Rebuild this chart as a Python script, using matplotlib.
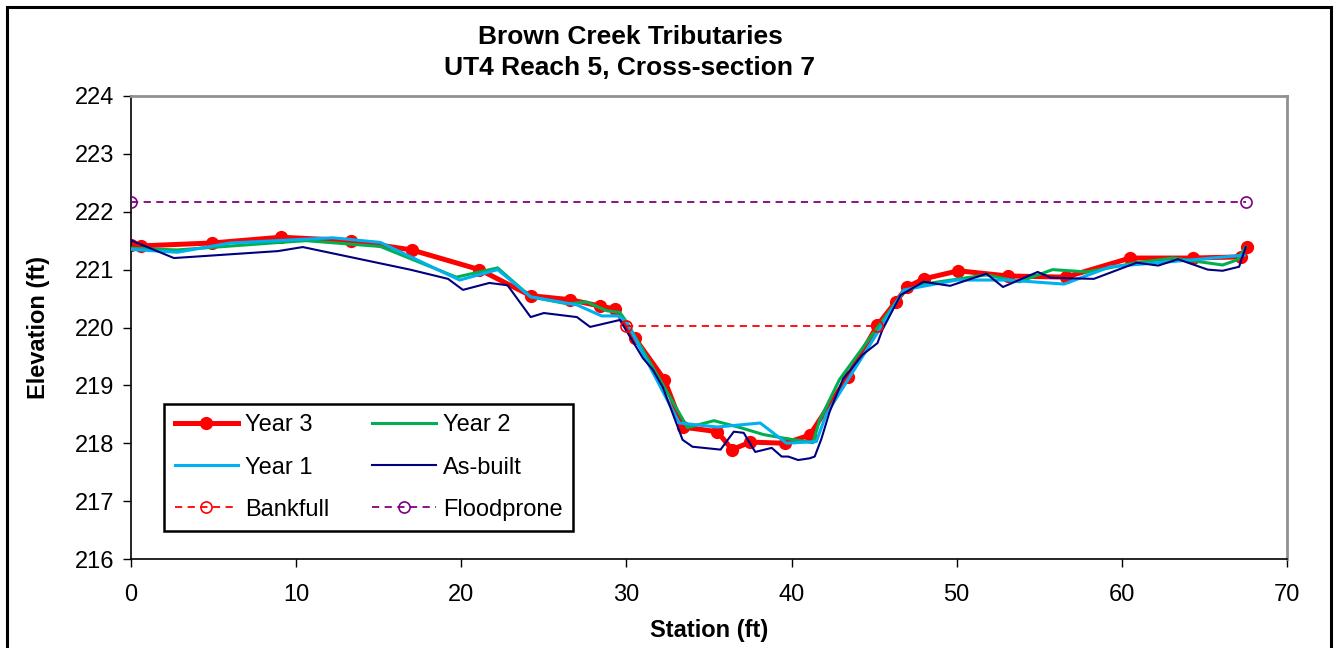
import matplotlib
matplotlib.use("Agg")
import matplotlib.pyplot as plt
from matplotlib.patches import Rectangle

plt.rcParams['font.family'] = ['Liberation Sans', 'DejaVu Sans']

# Year 3 survey
y3_sta = [0.0, 0.6, 4.9, 9.1, 13.3, 17.0, 21.1, 24.2, 26.6, 28.4, 29.3, 30.5, 32.3,
          33.4, 35.5, 36.4, 37.5, 39.6, 41.1, 43.4, 45.2, 46.3, 47.0, 48.0, 50.1,
          53.1, 56.6, 60.5, 64.3, 67.2, 67.6]
y3_elev = [221.43, 221.41, 221.46, 221.56, 221.5, 221.34, 221.0, 220.55, 220.48, 220.37,
           220.32, 219.82, 219.1, 218.28, 218.2, 217.89, 218.02, 218.0, 218.14, 219.15,
           220.04, 220.44, 220.7, 220.84, 220.98, 220.89, 220.87, 221.2, 221.2, 221.22,
           221.39]

# Year 2 survey
y2_sta = [0.0, 2.8, 9.0, 10.6, 15.1, 19.7, 22.2, 24.2, 26.4, 27.6, 28.8, 29.6, 30.0,
          33.2, 33.7, 35.3, 36.9, 38.3, 39.7, 41.3, 41.7, 42.9, 45.2, 46.8, 48.0,
          51.8, 53.8, 55.8, 57.9, 60.9, 63.1, 66.1, 67.0, 67.5]
y2_elev = [221.37, 221.34, 221.47, 221.5, 221.4, 220.87, 221.03, 220.53, 220.41, 220.44,
           220.29, 220.26, 220.1, 218.52, 218.27, 218.39, 218.27, 218.15, 218.08, 218.01,
           218.4, 219.1, 220.0, 220.62, 220.75, 220.91, 220.79, 221.0, 220.96, 221.12,
           221.2, 221.08, 221.17, 221.39]

# Year 1 survey
y1_sta = [0.0, 2.8, 6.0, 12.2, 15.1, 19.9, 22.2, 24.2, 27.0, 28.5, 29.5, 30.0, 33.2,
          35.5, 38.1, 39.7, 41.5, 42.1, 45.4, 46.8, 50.0, 53.1, 56.5, 59.3, 64.3, 67.4]
y1_elev = [221.35, 221.3, 221.46, 221.55, 221.47, 220.82, 221.0, 220.53, 220.39, 220.2,
           220.2, 220.1, 218.35, 218.28, 218.35, 218.0, 218.03, 218.5, 220.0, 220.65,
           220.82, 220.82, 220.75, 221.05, 221.17, 221.25]

# As-built survey
ab_sta = [0.05, 2.6, 8.9, 10.4, 13.9, 16.9, 19.2, 20.1, 21.7, 22.8, 24.2, 25.0, 27.0,
          27.8, 29.6, 31.0, 31.6, 32.2, 33.4, 34.0, 35.7, 36.5, 37.1, 37.8, 38.8, 39.4,
          39.8, 40.4, 41.1, 41.4, 41.8, 42.3, 43.1, 44.3, 45.2, 45.5, 46.6, 48.0, 49.6,
          51.8, 52.8, 54.9, 55.7, 58.3, 60.9, 62.2, 63.4, 65.2, 66.1, 67.1, 67.5]
ab_elev = [221.5, 221.2, 221.32, 221.39, 221.18, 221.0, 220.84, 220.65, 220.77, 220.73,
           220.18, 220.25, 220.18, 220.01, 220.13, 219.47, 219.27, 218.97, 218.06, 217.94,
           217.89, 218.2, 218.18, 217.85, 217.92, 217.77, 217.77, 217.71, 217.74, 217.77,
           218.07, 218.54, 219.1, 219.53, 219.73, 219.96, 220.56, 220.79, 220.72, 220.93,
           220.7, 220.96, 220.86, 220.84, 221.12, 221.07, 221.18, 221.0, 220.98, 221.05,
           221.39]

bkf_sta = [30.0, 45.2]
bkf_elev = [220.03, 220.03]
fp_sta = [0.0, 67.5]
fp_elev = [222.17, 222.17]

fig = plt.figure(figsize=(13.35, 6.48), dpi=100)
ax = fig.add_axes([131 / 1335, 1 - 559 / 648, 1156 / 1335, 463 / 648])

l3, = ax.plot(y3_sta, y3_elev, color='#FF0000', lw=3.6, marker='o', ms=8.5,
              label='Year 3', zorder=2)
l2, = ax.plot(y2_sta, y2_elev, color='#00B050', lw=2.2, label='Year 2', zorder=3)
l1, = ax.plot(y1_sta, y1_elev, color='#00B0F0', lw=2.2, label='Year 1', zorder=4)
lab, = ax.plot(ab_sta, ab_elev, color='#000080', lw=1.5, label='As-built', zorder=5)
lbk, = ax.plot(bkf_sta, bkf_elev, color='#FF0000', lw=1.3, ls=(0, (4, 3)), marker='o',
               ms=8, mfc='none', mew=1.2, label='Bankfull', zorder=6)
lfp, = ax.plot(fp_sta, fp_elev, color='#800080', lw=1.3, ls=(0, (4, 3)), marker='o',
               ms=8, mfc='none', mew=1.2, label='Floodprone', zorder=6)

ax.set_xlim(0, 70)
ax.set_ylim(216, 224)
ax.set_xticks(range(0, 71, 10))
ax.set_yticks(range(216, 225))
ax.tick_params(labelsize=17, direction='out', length=6, width=1, color='black')
ax.tick_params(axis='y', pad=6)
ax.tick_params(axis='x', pad=12)
for s in ['top', 'right']:
    ax.spines[s].set_color('#909090')
    ax.spines[s].set_linewidth(2)
for s in ['left', 'bottom']:
    ax.spines[s].set_color('black')
    ax.spines[s].set_linewidth(1.2)

ax.set_xlabel('Station (ft)', fontsize=17, fontweight='bold', labelpad=9)
ax.set_ylabel('Elevation (ft)', fontsize=17, fontweight='bold', labelpad=18)

leg = ax.legend(handles=[l3, l1, lbk, l2, lab, lfp], ncol=2, fontsize=17,
                loc='lower left', bbox_to_anchor=(0.0285, 0.06, 0.354, 0.292),
                mode='expand', fancybox=False, framealpha=1, edgecolor='black',
                handlelength=2.7, handletextpad=0.3, labelspacing=0.85,
                borderpad=0.45, borderaxespad=0, columnspacing=1.5)
leg.get_frame().set_linewidth(1.8)

fig.text(630 / 1335, 1 - 37 / 648, 'Brown Creek Tributaries', ha='center', va='center',
         fontsize=19, fontweight='bold')
fig.text(630 / 1335, 1 - 68 / 648, 'UT4 Reach 5, Cross-section 7', ha='center',
         va='center', fontsize=19, fontweight='bold')

fig.patches.append(Rectangle((7 / 1335, -0.02), 1324 / 1335, 1.02 - 7 / 648,
                             transform=fig.transFigure, fill=False, ec='black', lw=2.2))

fig.savefig('out.png', dpi=100)
